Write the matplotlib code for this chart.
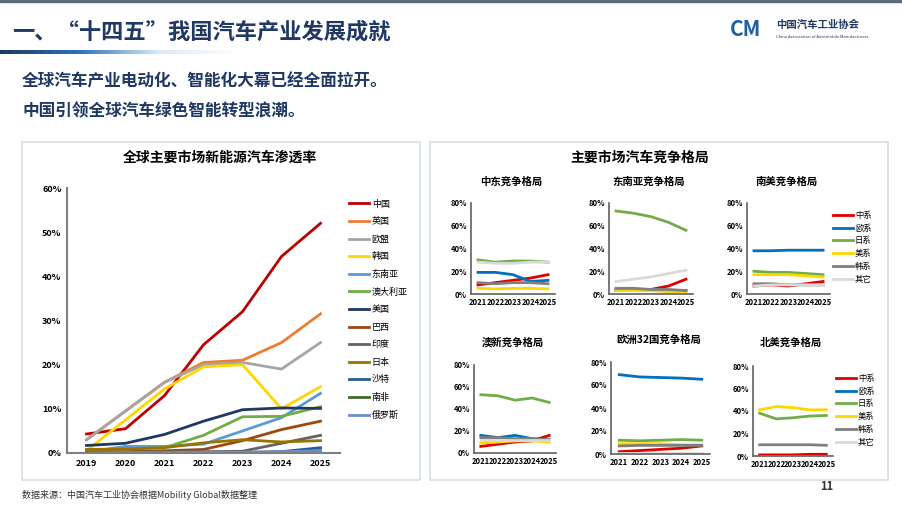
import matplotlib
matplotlib.use("Agg")
import matplotlib.pyplot as plt
import numpy as np
from matplotlib.patches import Rectangle

plt.rcParams['font.family'] = ['Noto Sans CJK SC', 'DejaVu Sans']

# ---- left chart data ----
years = [2019, 2020, 2021, 2022, 2023, 2024, 2025]
markets = ["中国", "英国", "欧盟", "韩国", "东南亚", "澳大利亚", "美国",
           "巴西", "印度", "日本", "沙特", "南非", "俄罗斯"]
market_colors = ["#C00000", "#ED7D31", "#A5A5A5", "#FFD700", "#5B9BD5", "#70AD47",
                 "#1F3864", "#9E480E", "#636363", "#997300", "#255E91", "#43682B", "#698ED0"]
china = [4.3, 5.5, 13, 24.5, 32, 44.5, 52]
uk = [3, 9.5, 16, 20.5, 21, 25, 31.5]
eu = [3, 9.5, 16, 20, 20.5, 19, 25]
korea = [0.5, 7.5, 14.5, 19.5, 20, 10, 15]
sea = [0.2, 1.5, 1.5, 2, 5, 8, 13.5]
australia = [0.5, 1, 1.2, 4, 8.2, 8.3, 10.5]
usa = [1.7, 2.2, 4.2, 7.2, 9.8, 10.2, 10.1]
brazil = [0.2, 0.3, 0.5, 0.8, 2.8, 5.3, 7.2]
india = [0.1, 0.2, 0.3, 0.3, 0.4, 2.2, 4]
japan = [0.8, 0.9, 1.2, 2.3, 3, 2.5, 2.8]
saudi = [0, 0, 0, 0, 0.1, 0.3, 1.2]
safrica = [0, 0, 0, 0, 0, 0.2, 0.5]
russia = [0, 0.1, 0.1, 0.2, 0.2, 0.3, 0.5]
market_series = [china, uk, eu, korea, sea, australia, usa, brazil, india,
                 japan, saudi, safrica, russia]

# ---- right charts data ----
years5 = ["2021", "2022", "2023", "2024", "2025"]
brands = ["中系", "欧系", "日系", "美系", "韩系", "其它"]
brand_colors = ["#E00000", "#0070C0", "#70AD47", "#FFD700", "#7F7F7F", "#D9D9D9"]
mideast = [[8, 10, 12, 14, 17], [19, 19, 17, 11, 12], [30, 28, 29, 29, 28],
           [5, 4.5, 5, 5, 4.5], [10, 9, 10, 10, 9], [28, 27, 27, 28, 28]]
seasia = [[3, 4, 4, 7, 13], [4, 4, 4, 3, 3], [73, 71, 68, 63, 56],
          [3, 3, 3, 2, 2], [5, 5, 4, 4, 3], [11, 13, 15, 18, 21]]
samerica = [[7, 8, 7, 9, 11], [38, 38, 38.5, 38.5, 38.5], [20, 19, 19, 18, 17],
            [17, 17, 17, 16, 15], [9, 9, 8, 8, 8], [7, 8, 8, 8, 8]]
anz = [[6, 8, 10, 11, 16], [16, 14, 16, 13, 12], [53, 52, 48, 50, 46],
       [9, 10, 11, 11, 10], [14, 14, 13, 13, 12], [12, 12, 12, 12, 12]]
europe = [[2, 3, 4, 5, 7], [69, 67, 66.5, 66, 65], [12, 11.5, 12, 12.5, 12],
          [9, 9, 9, 8, 8], [7, 7.5, 7.5, 7.5, 7.5], [0.5, 0.5, 0.5, 0.5, 0.5]]
namerica = [[1, 1, 1, 1.5, 1.5], [0.3, 0.3, 0.3, 0.3, 0.3], [38, 33, 34, 35.5, 36],
            [41, 44, 43, 41, 41], [10, 10, 10, 10, 9.5], [0.2, 0.2, 0.2, 0.2, 0.2]]
small_titles = ["中东竞争格局", "东南亚竞争格局", "南美竞争格局",
                "澳新竞争格局", "欧洲32国竞争格局", "北美竞争格局"]
small_data = [mideast, seasia, samerica, anz, europe, namerica]

W, H = 903, 509
fig = plt.figure(figsize=(W / 100, H / 100), dpi=100)
navy = "#1F3864"

def fx(x): return x / W
def fy(y): return 1 - y / H

# header
fig.add_artist(Rectangle((0, fy(2)), 1, 2 / H, color="#5A6B7D", transform=fig.transFigure))
fig.text(fx(12), fy(32), "一、“十四五”我国汽车产业发展成就", fontsize=16, fontweight="bold",
         color=navy, va="center")
grad = np.linspace(0, 1, 256)[None, :]
gax = fig.add_axes([0, fy(54), fx(240), 4 / H])
gax.imshow(grad, aspect="auto", cmap=matplotlib.colors.LinearSegmentedColormap.from_list(
    "g", ["#1F3864", "#2E75B6", "#DDEBF7", "#FFFFFF"]))
gax.axis("off")
fig.text(fx(730), fy(30), "CM", fontsize=15, fontweight="bold", style="italic",
         color="#1F5FA8", va="center")
fig.text(fx(776), fy(25), "中国汽车工业协会", fontsize=7.5, fontweight="bold", color=navy, va="center")
fig.text(fx(776), fy(37), "China Association of Automobile Manufacturers", fontsize=3,
         color=navy, va="center")
fig.text(fx(22), fy(81), "全球汽车产业电动化、智能化大幕已经全面拉开。", fontsize=12,
         fontweight="bold", color=navy, va="center")
fig.text(fx(22), fy(111), "中国引领全球汽车绿色智能转型浪潮。", fontsize=12,
         fontweight="bold", color=navy, va="center")

# panel boxes
for x0, x1 in [(22, 420), (430, 888)]:
    fig.add_artist(Rectangle((fx(x0), fy(480)), fx(x1 - x0), (480 - 142) / H, fill=False,
                             edgecolor="#D6DEE8", lw=1.2, transform=fig.transFigure))

# left chart
ax = fig.add_axes([fx(67), fy(453), fx(273), (453 - 188) / H])
for name, vals, c in zip(markets, market_series, market_colors):
    ax.plot(years, vals, color=c, lw=2, label=name)
ax.set_xlim(2018.5, 2025.5)
ax.set_ylim(0, 60)
ax.set_yticks(range(0, 61, 10))
ax.set_yticklabels([f"{v}%" for v in range(0, 61, 10)])
ax.set_xticks(years)
ax.tick_params(length=0, labelsize=6.5, pad=4)
for t in ax.get_xticklabels() + ax.get_yticklabels():
    t.set_fontweight("bold")
for s in ["top", "right"]:
    ax.spines[s].set_visible(False)
for s in ["left", "bottom"]:
    ax.spines[s].set_color("#808080")
    ax.spines[s].set_linewidth(1.5)
ax.legend(loc="upper left", bbox_to_anchor=(1.02, 0.97), frameon=False, fontsize=6.5,
          handlelength=2.2, labelspacing=0.95, handletextpad=0.3, borderaxespad=0)
fig.text(fx(220), fy(158), "全球主要市场新能源汽车渗透率", fontsize=10, fontweight="bold",
         ha="center", va="center")

# right charts
fig.text(fx(640), fy(158), "主要市场汽车竞争格局", fontsize=10, fontweight="bold",
         ha="center", va="center")
boxes = [(471, 555, 203, 294, 182), (609, 693, 203, 294, 182), (747, 830, 203, 294, 182),
         (474, 556, 365, 453, 343), (611, 710, 362, 454, 340), (753, 833, 366, 456, 343)]
for i, (x0, x1, y0, y1, ty) in enumerate(boxes):
    a = fig.add_axes([fx(x0), fy(y1), fx(x1 - x0), (y1 - y0) / H])
    for name, vals, c in zip(brands, small_data[i], brand_colors):
        a.plot(years5, vals, color=c, lw=2, label=name)
    a.set_xlim(-0.4, 4.4)
    a.set_ylim(0, 80)
    a.set_yticks(range(0, 81, 20))
    a.set_yticklabels([f"{v}%" for v in range(0, 81, 20)])
    a.tick_params(length=0, labelsize=5.5, pad=3)
    for t in a.get_xticklabels() + a.get_yticklabels():
        t.set_fontweight("bold")
    for s in ["top", "right"]:
        a.spines[s].set_visible(False)
    for s in ["left", "bottom"]:
        a.spines[s].set_color("#606060")
        a.spines[s].set_linewidth(1.2)
    fig.text(fx((x0 + x1) / 2 - 2), fy(ty), small_titles[i], fontsize=7.5, fontweight="bold",
             ha="center", va="center")
    if i in (2, 5):
        a.legend(loc="upper left", bbox_to_anchor=(1.0, 0.95), frameon=False, fontsize=6,
                 handlelength=2.4, labelspacing=0.45, handletextpad=0.2, borderaxespad=0)

# footer
fig.text(fx(22), fy(495), "数据来源：中国汽车工业协会根据Mobility Global数据整理", fontsize=6.5,
         color="#333333", va="center")
fig.text(fx(820), fy(487), "11", fontsize=8, fontweight="bold", color="#333333", va="center")

fig.savefig("out.png", dpi=100)
